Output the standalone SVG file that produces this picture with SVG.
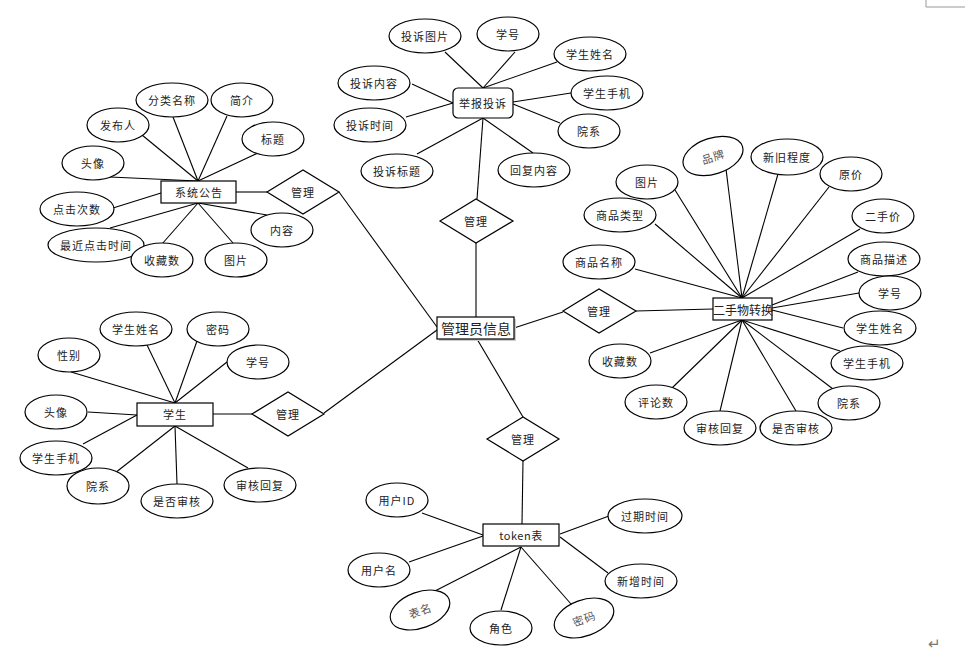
<svg xmlns="http://www.w3.org/2000/svg" width="965" height="654" viewBox="0 0 965 654">
<style>
.e{fill:#fff;stroke:#000;stroke-width:1.2}
.r{fill:#fff;stroke:#000;stroke-width:1.2}
.d{fill:#fff;stroke:#000;stroke-width:1.2}
.c line{stroke:#000;stroke-width:1.1}
text{font-family:"Noto Sans CJK SC","Liberation Sans",sans-serif;font-size:11px;letter-spacing:1px;fill:#222;text-anchor:middle;dominant-baseline:central}
.g{fill:#555}
.big{font-size:14px;letter-spacing:0}
</style>
<rect width="965" height="654" fill="#fff"/>
<path d="M926 0V7H965" fill="none" stroke="#999" stroke-width="1"/>
<text x="934" y="642" style="font-size:15px;fill:#777;letter-spacing:0">↵</text>

<g id="connectors" class="c">
<!-- 系统公告 -->
<line x1="198" y1="181" x2="173" y2="117"/>
<line x1="198" y1="181" x2="227" y2="116"/>
<line x1="198" y1="181" x2="142" y2="135"/>
<line x1="198" y1="181" x2="258" y2="153"/>
<line x1="198" y1="181" x2="110" y2="177"/>
<line x1="161" y1="193" x2="113" y2="208"/>
<line x1="198" y1="203" x2="110" y2="228"/>
<line x1="198" y1="203" x2="162" y2="244"/>
<line x1="198" y1="203" x2="233" y2="243"/>
<line x1="198" y1="203" x2="267" y2="215"/>
<line x1="236" y1="192" x2="267" y2="192"/>
<line x1="339" y1="192" x2="437" y2="327"/>
<!-- 举报投诉 -->
<line x1="483" y1="88" x2="445" y2="52"/>
<line x1="483" y1="88" x2="515" y2="52"/>
<line x1="483" y1="88" x2="557" y2="62"/>
<line x1="453" y1="103" x2="412" y2="84"/>
<line x1="453" y1="103" x2="406" y2="117"/>
<line x1="513" y1="102" x2="571" y2="93"/>
<line x1="513" y1="104" x2="560" y2="123"/>
<line x1="483" y1="118" x2="417" y2="154"/>
<line x1="483" y1="118" x2="533" y2="153"/>
<line x1="483" y1="118" x2="477" y2="199"/>
<line x1="476" y1="243" x2="476" y2="317"/>
<!-- 二手物转换 -->
<line x1="514" y1="328" x2="563" y2="312"/>
<line x1="636" y1="311" x2="713" y2="309"/>
<line x1="742" y1="298" x2="635" y2="269"/>
<line x1="742" y1="298" x2="655" y2="224"/>
<line x1="742" y1="298" x2="675" y2="190"/>
<line x1="742" y1="298" x2="726" y2="169"/>
<line x1="742" y1="298" x2="778" y2="174"/>
<line x1="742" y1="298" x2="829" y2="187"/>
<line x1="742" y1="298" x2="860" y2="229"/>
<line x1="772" y1="305" x2="858" y2="272"/>
<line x1="772" y1="308" x2="859" y2="293"/>
<line x1="772" y1="310" x2="843" y2="328"/>
<line x1="742" y1="320" x2="840" y2="351"/>
<line x1="742" y1="320" x2="833" y2="389"/>
<line x1="742" y1="320" x2="796" y2="411"/>
<line x1="742" y1="320" x2="720" y2="411"/>
<line x1="742" y1="320" x2="672" y2="388"/>
<line x1="742" y1="320" x2="650" y2="353"/>
<!-- 学生 -->
<line x1="175" y1="403" x2="71" y2="372"/>
<line x1="175" y1="403" x2="147" y2="345"/>
<line x1="175" y1="403" x2="197" y2="341"/>
<line x1="175" y1="403" x2="227" y2="362"/>
<line x1="137" y1="415" x2="88" y2="412"/>
<line x1="137" y1="415" x2="83" y2="444"/>
<line x1="175" y1="426" x2="115" y2="473"/>
<line x1="175" y1="426" x2="177" y2="484"/>
<line x1="175" y1="426" x2="248" y2="468"/>
<line x1="213" y1="414" x2="252" y2="414"/>
<line x1="324" y1="413" x2="437" y2="330"/>
<!-- token表 -->
<line x1="477" y1="339" x2="523" y2="417"/>
<line x1="523" y1="461" x2="522" y2="524"/>
<line x1="483" y1="535" x2="422" y2="513"/>
<line x1="483" y1="536" x2="409" y2="562"/>
<line x1="521" y1="547" x2="433" y2="592"/>
<line x1="521" y1="547" x2="501" y2="610"/>
<line x1="521" y1="547" x2="571" y2="604"/>
<line x1="560" y1="534" x2="609" y2="516"/>
<line x1="560" y1="537" x2="608" y2="573"/>
</g>

<!-- 系统公告 entity and attributes -->
<g id="n-xtgg"><rect class="r" x="161" y="181" width="75" height="22"/><text x="199" y="192">系统公告</text></g>
<g id="n-gl1"><polygon class="d" points="267,192 303,170 339,192 303,214"/><text x="303" y="192">管理</text></g>
<g id="a-flmc"><ellipse class="e" cx="172" cy="100" rx="36" ry="17"/><text x="172" y="100">分类名称</text></g>
<g id="a-jj"><ellipse class="e" cx="242" cy="100" rx="31" ry="17"/><text x="242" y="100">简介</text></g>
<g id="a-fbr"><ellipse class="e" cx="118" cy="125" rx="31" ry="17"/><text x="118" y="125">发布人</text></g>
<g id="a-bt"><ellipse class="e" cx="273" cy="139" rx="31" ry="17"/><text x="273" y="139">标题</text></g>
<g id="a-tx1"><ellipse class="e" cx="93" cy="163" rx="31" ry="17"/><text x="93" y="163">头像</text></g>
<g id="a-djcs"><ellipse class="e" cx="77" cy="209" rx="37" ry="17"/><text x="77" y="209">点击次数</text></g>
<g id="a-zjdjsj"><ellipse class="e" cx="96" cy="245" rx="48" ry="17"/><text x="96" y="245">最近点击时间</text></g>
<g id="a-scs1"><ellipse class="e" cx="162" cy="260" rx="31" ry="17"/><text x="162" y="260">收藏数</text></g>
<g id="a-tp1"><ellipse class="e" cx="236" cy="260" rx="31" ry="17"/><text x="236" y="260">图片</text></g>
<g id="a-nr"><ellipse class="e" cx="282" cy="230" rx="31" ry="17"/><text x="282" y="230">内容</text></g>

<!-- 举报投诉 -->
<g id="n-jbts"><rect class="r" x="453" y="88" width="60" height="30" rx="5"/><text x="483" y="103">举报投诉</text></g>
<g id="n-gl2"><polygon class="d" points="440,221 476,199 513,221 476,243"/><text x="476" y="221">管理</text></g>
<g id="a-tstp"><ellipse class="e" cx="425" cy="36" rx="36" ry="17"/><text x="425" y="36">投诉图片</text></g>
<g id="a-xh1"><ellipse class="e" cx="508" cy="34" rx="31" ry="17"/><text x="508" y="34">学号</text></g>
<g id="a-xsxm1"><ellipse class="e" cx="590" cy="54" rx="36" ry="17"/><text x="590" y="54">学生姓名</text></g>
<g id="a-tsnr"><ellipse class="e" cx="374" cy="83" rx="36" ry="17"/><text x="374" y="83">投诉内容</text></g>
<g id="a-xssj1"><ellipse class="e" cx="607" cy="93" rx="36" ry="17"/><text x="607" y="93">学生手机</text></g>
<g id="a-tssj"><ellipse class="e" cx="370" cy="125" rx="36" ry="17"/><text x="370" y="125">投诉时间</text></g>
<g id="a-yx1"><ellipse class="e" cx="589" cy="131" rx="31" ry="17"/><text x="589" y="131">院系</text></g>
<g id="a-tsbt"><ellipse class="e" cx="397" cy="171" rx="36" ry="17"/><text x="397" y="171">投诉标题</text></g>
<g id="a-hfnr"><ellipse class="e" cx="534" cy="170" rx="36" ry="17"/><text x="534" y="170">回复内容</text></g>

<!-- 管理员信息 -->
<g id="n-glyxx"><rect x="439" y="319" width="77" height="22" fill="#ccc"/><rect class="r" x="437" y="317" width="77" height="22"/><text class="big" x="476" y="328">管理员信息</text></g>

<!-- 二手物转换 -->
<g id="n-gl3"><polygon class="d" points="563,311 599,289 636,311 599,333"/><text x="599" y="311">管理</text></g>
<g id="n-eswzh"><rect class="r" x="713" y="298" width="59" height="22"/><text x="743" y="309" style="font-size:12px;letter-spacing:0">二手物转换</text></g>
<g id="a-pp"><ellipse class="e" cx="713" cy="156" rx="31" ry="18" transform="rotate(-18 713 156)"/><text class="g" x="713" y="156" transform="rotate(-18 713 156)">品牌</text></g>
<g id="a-xjcd"><ellipse class="e" cx="787" cy="157" rx="36" ry="18"/><text x="787" y="157">新旧程度</text></g>
<g id="a-tp2"><ellipse class="e" cx="647" cy="182" rx="31" ry="17"/><text x="647" y="182">图片</text></g>
<g id="a-yj"><ellipse class="e" cx="851" cy="174" rx="31" ry="17"/><text x="851" y="174">原价</text></g>
<g id="a-splx"><ellipse class="e" cx="620" cy="215" rx="36" ry="17"/><text x="620" y="215">商品类型</text></g>
<g id="a-esj"><ellipse class="e" cx="883" cy="216" rx="31" ry="17"/><text x="883" y="216">二手价</text></g>
<g id="a-spmc"><ellipse class="e" cx="599" cy="262" rx="36" ry="17"/><text x="599" y="262">商品名称</text></g>
<g id="a-spms"><ellipse class="e" cx="884" cy="259" rx="36" ry="17"/><text x="884" y="259">商品描述</text></g>
<g id="a-xh2"><ellipse class="e" cx="890" cy="293" rx="31" ry="17"/><text x="890" y="293">学号</text></g>
<g id="a-xsxm2"><ellipse class="e" cx="880" cy="328" rx="36" ry="17"/><text x="880" y="328">学生姓名</text></g>
<g id="a-xssj2"><ellipse class="e" cx="867" cy="363" rx="36" ry="17"/><text x="867" y="363">学生手机</text></g>
<g id="a-yx2"><ellipse class="e" cx="849" cy="403" rx="31" ry="17"/><text x="849" y="403">院系</text></g>
<g id="a-scs2"><ellipse class="e" cx="620" cy="361" rx="31" ry="17"/><text x="620" y="361">收藏数</text></g>
<g id="a-pls"><ellipse class="e" cx="656" cy="402" rx="31" ry="17"/><text x="656" y="402">评论数</text></g>
<g id="a-shhf1"><ellipse class="e" cx="720" cy="428" rx="36" ry="17"/><text x="720" y="428">审核回复</text></g>
<g id="a-sfsh1"><ellipse class="e" cx="796" cy="428" rx="36" ry="17"/><text x="796" y="428">是否审核</text></g>

<!-- 学生 -->
<g id="n-xs"><rect class="r" x="137" y="403" width="76" height="23"/><text x="175" y="414">学生</text></g>
<g id="n-gl4"><polygon class="d" points="252,414 288,392 324,414 288,436"/><text x="288" y="414">管理</text></g>
<g id="a-xb"><ellipse class="e" cx="69" cy="355" rx="31" ry="17"/><text x="69" y="355">性别</text></g>
<g id="a-xsxm3"><ellipse class="e" cx="136" cy="329" rx="36" ry="17"/><text x="136" y="329">学生姓名</text></g>
<g id="a-mm1"><ellipse class="e" cx="218" cy="329" rx="31" ry="17"/><text x="218" y="329">密码</text></g>
<g id="a-xh3"><ellipse class="e" cx="258" cy="362" rx="31" ry="17"/><text x="258" y="362">学号</text></g>
<g id="a-tx2"><ellipse class="e" cx="56" cy="412" rx="31" ry="17"/><text x="56" y="412">头像</text></g>
<g id="a-xssj3"><ellipse class="e" cx="56" cy="458" rx="36" ry="17"/><text x="56" y="458">学生手机</text></g>
<g id="a-yx3"><ellipse class="e" cx="98" cy="486" rx="31" ry="18"/><text x="98" y="486">院系</text></g>
<g id="a-sfsh2"><ellipse class="e" cx="177" cy="501" rx="36" ry="17"/><text x="177" y="501">是否审核</text></g>
<g id="a-shhf2"><ellipse class="e" cx="260" cy="485" rx="36" ry="17"/><text x="260" y="485">审核回复</text></g>

<!-- token表 -->
<g id="n-gl5"><polygon class="d" points="487,439 523,417 559,439 523,461"/><text x="523" y="439">管理</text></g>
<g id="n-token"><rect class="r" x="483" y="524" width="76" height="22"/><text x="521" y="535" style="font-size:11px;letter-spacing:0.5px">token表</text></g>
<g id="a-yhid"><ellipse class="e" cx="397" cy="500" rx="31" ry="17"/><text x="397" y="500">用户ID</text></g>
<g id="a-gqsj"><ellipse class="e" cx="645" cy="516" rx="37" ry="17"/><text x="645" y="516">过期时间</text></g>
<g id="a-yhm"><ellipse class="e" cx="379" cy="570" rx="31" ry="17"/><text x="379" y="570">用户名</text></g>
<g id="a-xzsj"><ellipse class="e" cx="641" cy="581" rx="36" ry="17"/><text x="641" y="581">新增时间</text></g>
<g id="a-bm"><ellipse class="e" cx="420" cy="610" rx="31" ry="18" transform="rotate(-20 420 610)"/><text class="g" x="420" y="610" transform="rotate(-20 420 610)">表名</text></g>
<g id="a-js"><ellipse class="e" cx="501" cy="628" rx="31" ry="17"/><text x="501" y="628">角色</text></g>
<g id="a-mm2"><ellipse class="e" cx="584" cy="618" rx="31" ry="18" transform="rotate(-20 584 618)"/><text class="g" x="584" y="618" transform="rotate(-20 584 618)">密码</text></g>
</svg>
